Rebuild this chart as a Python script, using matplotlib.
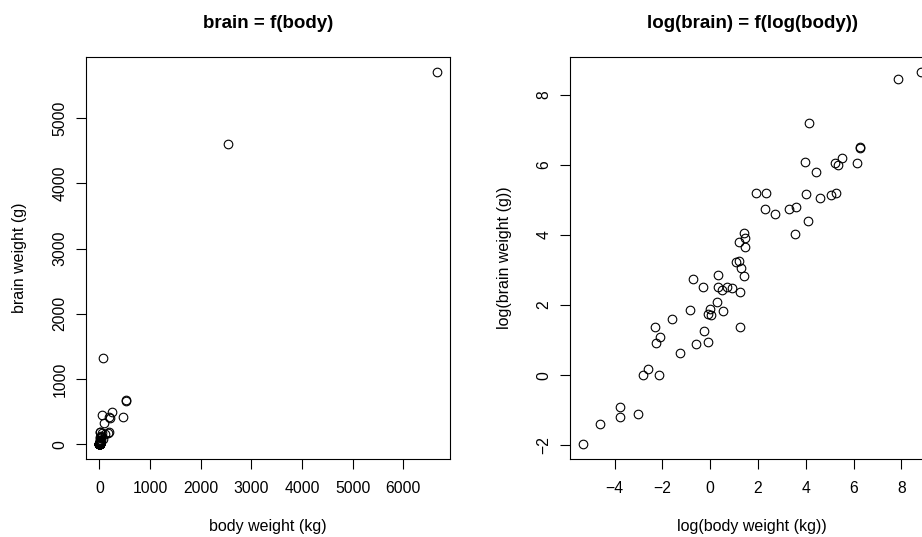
import matplotlib.pyplot as plt
import numpy as np

plt.rcParams["font.family"] = ["Liberation Sans", "DejaVu Sans"]

# MASS::mammals -- body weight (kg) and brain weight (g)
body = [3.385, 0.480, 1.350, 465.0, 36.33, 27.66, 14.83, 1.040, 4.190, 0.425,
        0.101, 0.920, 1.000, 0.005, 0.060, 3.500, 2.000, 1.700, 2547.0, 0.023,
        187.1, 521.0, 0.785, 10.00, 3.300, 0.200, 1.410, 529.0, 207.0, 85.00,
        0.750, 62.00, 6654.0, 3.500, 6.800, 35.00, 4.050, 0.120, 0.023, 0.010,
        1.400, 250.0, 2.500, 55.50, 100.0, 52.16, 10.55, 0.550, 60.00, 3.600,
        4.288, 0.280, 0.075, 0.122, 0.048, 192.0, 3.000, 160.0, 0.900, 1.620,
        0.104, 4.235]
brain = [44.50, 15.50, 8.10, 423.0, 119.5, 115.0, 98.20, 5.50, 58.00, 6.40,
         4.00, 5.70, 6.60, 0.14, 1.00, 10.80, 12.30, 6.30, 4603.0, 0.30,
         419.0, 655.0, 3.50, 115.0, 25.60, 5.00, 17.50, 680.0, 406.0, 325.0,
         12.30, 1320.0, 5712.0, 3.90, 179.0, 56.00, 17.00, 1.00, 0.40, 0.25,
         12.50, 490.0, 12.10, 175.0, 157.0, 440.0, 179.5, 2.40, 81.00, 21.00,
         39.20, 1.90, 1.20, 3.00, 0.33, 180.0, 25.00, 169.0, 2.60, 11.40,
         2.50, 50.40]

body = np.array(body)
brain = np.array(brain)

W, H = 922, 537


def r_lims(v):
    # R style 4% padding
    lo, hi = v.min(), v.max()
    d = (hi - lo) * 0.04
    return lo - d, hi + d


def panel(left, x, y, title, xlab, ylab, xticks, yticks):
    ax = fig.add_axes([left / W, (H - 459) / H, 364 / W, 402 / H])
    ax.plot(x, y, "o", mfc="none", mec="black", ms=6.2, mew=0.8)
    ax.set_xlim(*r_lims(x))
    ax.set_ylim(*r_lims(y))
    ax.set_xticks(xticks)
    ax.set_yticks(yticks)
    ax.set_xticklabels([str(t).replace("-", "\u2212") for t in xticks])
    ax.set_yticklabels([str(t).replace("-", "\u2212") for t in yticks],
                       rotation=90, va="center")
    ax.tick_params(direction="out", length=7.2, width=0.8, labelsize=11.3)
    ax.tick_params(axis="x", pad=8.8)
    ax.tick_params(axis="y", pad=6.3)
    for s in ax.spines.values():
        s.set_linewidth(0.8)
    ax.set_title(title, fontsize=13.5, fontweight="bold", pad=21)
    ax.set_xlabel(xlab, fontsize=11.5)
    ax.set_ylabel(ylab, fontsize=11.5)
    ax.xaxis.set_label_coords(0.5, (459 - 527) / 402)
    ax.xaxis.label.set_va("center")
    ax.yaxis.set_label_coords(-66 / 364, 0.5)
    ax.yaxis.label.set_va("center")
    return ax


fig = plt.figure(figsize=(W / 100, H / 100), dpi=100)

panel(86, body, brain, "brain = f(body)", "body weight (kg)", "brain weight (g)",
      [0, 1000, 2000, 3000, 4000, 5000, 6000], [0, 1000, 2000, 3000, 4000, 5000])

panel(570, np.log(body), np.log(brain), "log(brain) = f(log(body))",
      "log(body weight (kg))", "log(brain weight (g))",
      [-4, -2, 0, 2, 4, 6, 8], [-2, 0, 2, 4, 6, 8])

fig.savefig("out.png", dpi=100)
